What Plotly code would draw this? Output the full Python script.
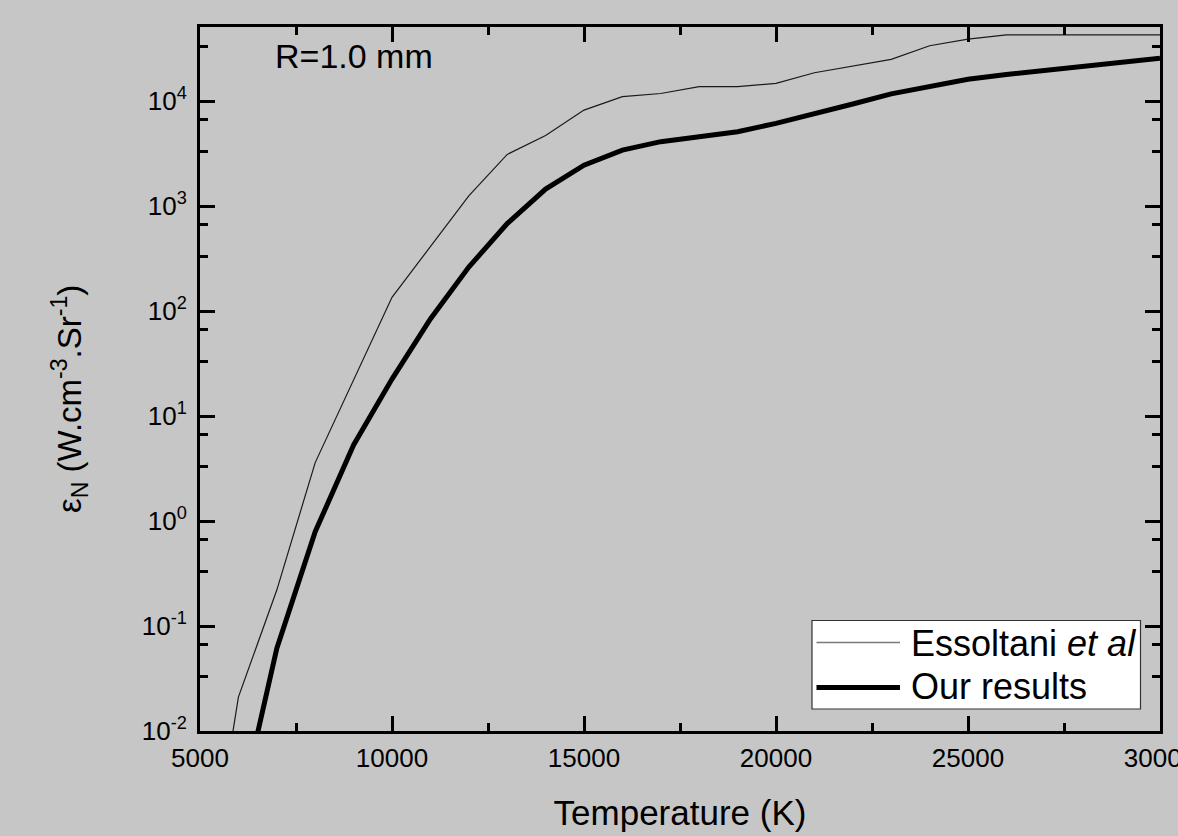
import plotly.graph_objects as go

# ---- data ----
T_essoltani = [5800, 6000, 7000, 8000, 10000, 12000, 13000, 14000, 15000, 16000,
               17000, 18000, 19000, 20000, 21000, 22000, 23000, 24000, 25000, 26000, 30000]
eps_essoltani = [0.0073, 0.021, 0.22, 3.6, 135, 1250, 3100, 4700, 8200, 11000,
                 11800, 13700, 13700, 14700, 18600, 21500, 24900, 33600, 38900, 42600, 42600]

T_ours = [6000, 7000, 8000, 9000, 10000, 11000, 12000, 13000, 14000, 15000, 16000,
          17000, 18000, 19000, 20000, 21000, 22000, 23000, 24000, 25000, 26000,
          27000, 28000, 29000, 30000]
eps_ours = [0.0015, 0.061, 0.79, 5.3, 22.5, 84, 262, 680, 1450, 2450, 3410,
            4100, 4570, 5100, 6130, 7520, 9360, 11700, 13900, 16100, 17900,
            19500, 21300, 23300, 25500]

x_ticks = [5000, 10000, 15000, 20000, 25000, 30000]
x_minor = [7500, 12500, 17500, 22500, 27500]
y_exps = [-2, -1, 0, 1, 2, 3, 4]
y_ticks = [10.0 ** e for e in y_exps]
y_ticktext = ["10<sup>%d</sup>" % e for e in y_exps]
y_minor = [f * 10.0 ** e for e in [-3, -2, -1, 0, 1, 2, 3, 4] for f in (10 / 3, 20 / 3)]

series_names = ["Essoltani <i>et al</i>", "Our results"]
annotation_text = "R=1.0 mm"
x_title = "Temperature (K)"
y_title = "ε<sub>N</sub> (W.cm<sup>-3</sup>.Sr<sup>-1</sup>)"

BG = "#c5c6c5"
FONT = "Liberation Sans, Arial, Helvetica, sans-serif"

fig = go.Figure()
fig.add_trace(go.Scatter(x=T_essoltani, y=eps_essoltani, mode="lines",
                         line=dict(color="#1a1a1a", width=1.2),
                         name=series_names[0], showlegend=False))
fig.add_trace(go.Scatter(x=T_ours, y=eps_ours, mode="lines",
                         line=dict(color="#000000", width=5),
                         name=series_names[1], showlegend=False))

axis_common = dict(
    showgrid=False, zeroline=False,
    showline=True, linecolor="black", linewidth=3,
    mirror="allticks", ticks="inside", ticklen=15, tickwidth=2.5, tickcolor="black",
    tickfont=dict(family=FONT, size=26, color="black"),
    ticklabeloverflow="allow", automargin=False,
)

fig.update_xaxes(
    **axis_common,
    range=[5000, 30000],
    tickvals=x_ticks, ticktext=[str(v) for v in x_ticks],
    ticklabelstandoff=2,
    minor=dict(tickvals=x_minor, ticks="inside", ticklen=8, tickwidth=2.5, tickcolor="black"),
    title=dict(text=x_title, font=dict(family=FONT, size=35, color="black"), standoff=29),
)
fig.update_yaxes(
    **axis_common,
    type="log", range=[-2, 4.705],
    tickvals=y_ticks, ticktext=y_ticktext,
    ticklabelstandoff=5,
    minor=dict(tickvals=y_minor, ticks="inside", ticklen=8, tickwidth=2.5, tickcolor="black"),
)

# ---- pixel helpers (plot area: x 200..1160, y 27..731) ----
def px_x(p):
    return (p - 200) / 960.0

def px_y(p):
    return (731 - p) / 704.0

# y-axis title (placed slightly below the plot centre, as in the reference)
fig.add_annotation(xref="paper", yref="paper", x=px_x(70), y=px_y(399),
                   text=y_title, textangle=-90, showarrow=False,
                   xanchor="center", yanchor="middle",
                   font=dict(family=FONT, size=33, color="black"))

# ---- legend drawn as a box ----
fig.add_shape(type="rect", xref="paper", yref="paper",
              x0=px_x(812), x1=px_x(1140.5), y0=px_y(709), y1=px_y(620.5),
              fillcolor="white", line=dict(color="#333333", width=1.2), layer="above")
fig.add_shape(type="line", xref="paper", yref="paper",
              x0=px_x(816.5), x1=px_x(900), y0=px_y(642.5), y1=px_y(642.5),
              line=dict(color="#7a7a7a", width=1.5), layer="above")
fig.add_shape(type="line", xref="paper", yref="paper",
              x0=px_x(816.5), x1=px_x(900), y0=px_y(687.5), y1=px_y(687.5),
              line=dict(color="black", width=5), layer="above")
fig.add_annotation(xref="paper", yref="paper", x=px_x(909), y=px_y(643),
                   text=series_names[0], showarrow=False, xanchor="left", yanchor="middle",
                   font=dict(family=FONT, size=36, color="black"))
fig.add_annotation(xref="paper", yref="paper", x=px_x(909), y=px_y(686),
                   text=series_names[1], showarrow=False, xanchor="left", yanchor="middle",
                   font=dict(family=FONT, size=36, color="black"))

fig.add_annotation(xref="paper", yref="paper", x=px_x(273), y=px_y(56),
                   text=annotation_text, showarrow=False, xanchor="left", yanchor="middle",
                   font=dict(family=FONT, size=34, color="black"))

fig.update_layout(
    width=1178, height=836,
    margin=dict(l=200, r=18, t=27, b=105, pad=0, autoexpand=False),
    paper_bgcolor=BG, plot_bgcolor=BG,
    font=dict(family=FONT, color="black"),
    showlegend=False,
)

fig.write_html(
    "out.html",
    config={"displayModeBar": False},
    post_script="document.body.style.margin='0';document.body.style.background='%s';"
                "document.body.style.overflow='hidden';" % BG,
)
